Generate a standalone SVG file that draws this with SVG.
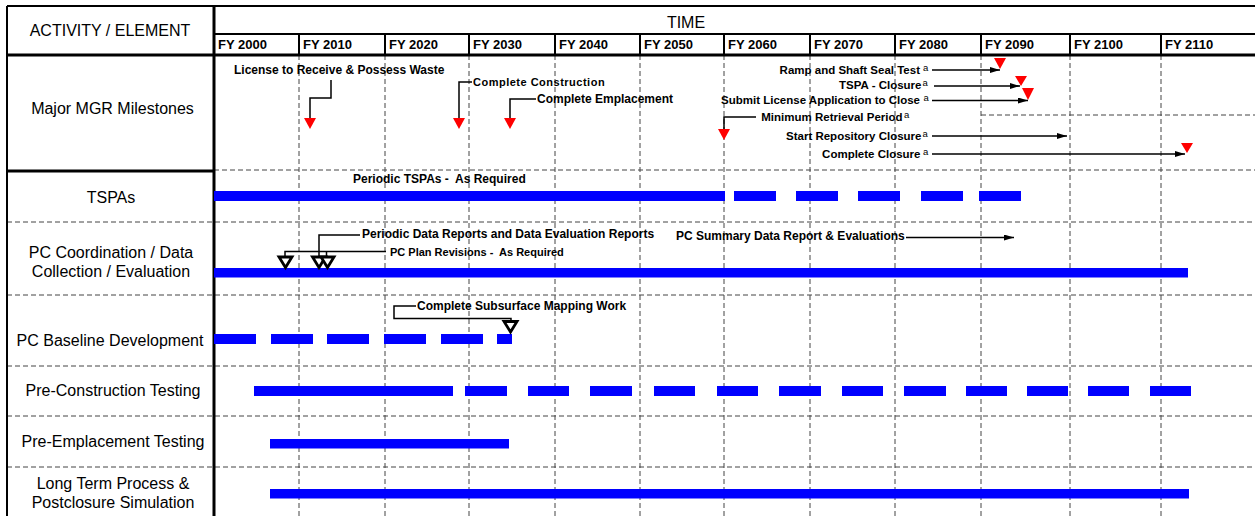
<svg xmlns="http://www.w3.org/2000/svg" width="1255" height="516" viewBox="0 0 1255 516">
  <defs>
    <marker id="arrow" viewBox="0 0 10 6" refX="10" refY="3" markerWidth="10" markerHeight="6" markerUnits="userSpaceOnUse" orient="auto">
      <path d="M0,0 L10,3 L0,6 z" fill="#000"/>
    </marker>
    <style>
      text { font-family: "Liberation Sans", Arial, sans-serif; fill: #000; }
      .lbl { font-size: 16px; text-anchor: middle; }
      .fy { font-size: 13px; font-weight: bold; }
      .ms { font-size: 12px; font-weight: bold; }
      .ms11 { font-size: 11px; font-weight: bold; }
      .cc { font-size: 11px; font-weight: bold; letter-spacing: 0.5px; }
      .msr { font-size: 11.5px; font-weight: bold; text-anchor: end; }
      .sup { font-size: 9.5px; }
      .grid { stroke: #444; stroke-width: 1; stroke-dasharray: 5 3; fill: none; }
      .frame { stroke: #000; fill: none; }
      .bar { fill: #0000ff; }
      .lead { stroke: #000; stroke-width: 1.5; fill: none; }
      .arr { stroke: #000; stroke-width: 1.5; fill: none; marker-end: url(#arrow); }
      .tri { fill: #ff0000; }
      .otri { fill: #fff; stroke: #000; stroke-width: 2.8; stroke-linejoin: miter; }
    </style>
  </defs>

  <rect width="1255" height="516" fill="#fff"/>

  <!-- table frame and grid -->
  <g id="grid">
    <!-- vertical decade lines -->
    <path class="grid" d="M299,55V516 M385,55V516 M469,55V516 M555,55V516 M640,55V516 M724,55V516 M810,55V516 M895,55V516 M981,55V516 M1070,55V516 M1161,55V516"/>
    <!-- row separators -->
    <path class="grid" d="M214,170H1255 M7,222H1255 M7,295H1255 M7,366H1255 M7,416H1255 M7,467H1255"/>
    <!-- minimum retrieval period extent -->
    <path class="grid" d="M981,115H1255"/>
    <!-- outer frame -->
    <path class="frame" stroke-width="2" d="M7,6H1255 M7,6V516"/>
    <path class="frame" stroke-width="3" d="M214,6V516 M7,55H1255 M7,171H214"/>
    <path class="frame" stroke-width="2" d="M214,34H1255"/>
    <!-- FY header cells -->
    <path class="frame" stroke="#222" stroke-width="2" d="M299,34V55 M385,34V55 M469,34V55 M555,34V55 M640,34V55 M724,34V55 M810,34V55 M895,34V55 M981,34V55 M1070,34V55 M1161,34V55"/>
  </g>

  <g id="header">
    <text class="lbl" x="110" y="36">ACTIVITY / ELEMENT</text>
    <text class="lbl" x="686" y="28">TIME</text>
    <text class="fy" x="218" y="49">FY 2000</text>
    <text class="fy" x="303" y="49">FY 2010</text>
    <text class="fy" x="389" y="49">FY 2020</text>
    <text class="fy" x="473" y="49">FY 2030</text>
    <text class="fy" x="559" y="49">FY 2040</text>
    <text class="fy" x="644" y="49">FY 2050</text>
    <text class="fy" x="728" y="49">FY 2060</text>
    <text class="fy" x="814" y="49">FY 2070</text>
    <text class="fy" x="899" y="49">FY 2080</text>
    <text class="fy" x="985" y="49">FY 2090</text>
    <text class="fy" x="1074" y="49">FY 2100</text>
    <text class="fy" x="1165" y="49">FY 2110</text>
  </g>

  <!-- Major MGR milestones -->
  <g id="milestones">
    <text class="lbl" x="112.5" y="114">Major MGR Milestones</text>
    <text class="ms" x="234" y="74">License to Receive &amp; Possess Waste</text>
    <text class="cc" x="473" y="86">Complete Construction</text>
    <text class="ms" x="537" y="103">Complete Emplacement</text>
    <text class="msr" x="920" y="74">Ramp and Shaft Seal Test</text>
    <text class="sup" x="923" y="71">a</text>
    <text class="msr" x="921.5" y="89">TSPA - Closure</text>
    <text class="sup" x="922.5" y="86">a</text>
    <text class="msr" x="920" y="104">Submit License Application to Close</text>
    <text class="sup" x="923.5" y="101">a</text>
    <text class="msr" x="902.5" y="121">Minimum Retrieval Period</text>
    <text class="sup" x="904" y="118">a</text>
    <text class="msr" x="921.5" y="140">Start Repository Closure</text>
    <text class="sup" x="922.5" y="137">a</text>
    <text class="msr" x="920.5" y="158">Complete Closure</text>
    <text class="sup" x="923" y="155">a</text>
    <!-- milestone markers -->
    <path class="tri" d="M304,118H316L310,129z"/>
    <path class="tri" d="M453,118H465L459,129z"/>
    <path class="tri" d="M504,118H516L510,129z"/>
    <path class="tri" d="M718,129H730L724,140z"/>
    <path class="tri" d="M994,58H1006L1000,69z"/>
    <path class="tri" d="M1015,76H1027L1021,86z"/>
    <path class="tri" d="M1022,88H1034L1028,100z"/>
    <path class="tri" d="M1181,143H1193L1187,153z"/>
  </g>

  <g id="tspas">
    <text class="lbl" x="111" y="203">TSPAs</text>
    <text class="ms" x="353" y="183" xml:space="preserve">Periodic TSPAs -  As Required</text>
    <path class="bar" d="M214,191H725V201H214z M734,191H776V201H734z M796,191H838V201H796z M858,191H900V201H858z M921,191H963V201H921z M979,191H1021V201H979z"/>
  </g>

  <g id="pc-coordination">
    <text class="lbl" x="111" y="258">PC Coordination / Data</text>
    <text class="lbl" x="111" y="277">Collection / Evaluation</text>
    <text class="ms" x="362" y="238">Periodic Data Reports and Data Evaluation Reports</text>
    <text class="ms11" x="390" y="256" xml:space="preserve">PC Plan Revisions -  As Required</text>
    <text class="ms" x="676" y="240">PC Summary Data Report &amp; Evaluations</text>
    <rect class="bar" x="214" y="268" width="974" height="9.5"/>
    <path class="otri" d="M279,257H292L285.5,267.5z"/>
    <path class="otri" d="M312.5,257H325.5L319,267.5z"/>
    <path class="otri" d="M321,257H334L327.5,267.5z"/>
  </g>

  <g id="pc-baseline">
    <text class="lbl" x="110" y="346">PC Baseline Development</text>
    <text class="ms" x="417" y="310">Complete Subsurface Mapping Work</text>
    <path class="bar" d="M214,334H256V344H214z M271,334H313V344H271z M327,334H369V344H327z M384,334H426V344H384z M441,334H483V344H441z M497,334H512V344H497z"/>
    <path class="otri" d="M504,321.5H517L510.5,332z"/>
  </g>

  <g id="pre-construction">
    <text class="lbl" x="113" y="396">Pre-Construction Testing</text>
    <path class="bar" d="M254,386H453V396H254z M465,386H507V396H465z M528,386H569V396H528z M590,386H632V396H590z M654,386H695V396H654z M717,386H758V396H717z M779,386H821V396H779z M842,386H883V396H842z M904,386H946V396H904z M966,386H1007V396H966z M1027,386H1068V396H1027z M1088,386H1129V396H1088z M1150,386H1191V396H1150z"/>
  </g>

  <g id="pre-emplacement">
    <text class="lbl" x="113" y="447">Pre-Emplacement Testing</text>
    <rect class="bar" x="270" y="439" width="239" height="9.5"/>
  </g>

  <g id="long-term">
    <text class="lbl" x="113" y="489">Long Term Process &amp;</text>
    <text class="lbl" x="113" y="508">Postclosure Simulation</text>
    <rect class="bar" x="270" y="489" width="919" height="9.5"/>
  </g>

  <!-- leader lines and arrows -->
  <g id="connectors">
    <path class="lead" d="M331,80V98H310V118"/>
    <path class="lead" d="M472,82H459V118"/>
    <path class="lead" d="M536,99H510V118"/>
    <path class="lead" d="M756,117H724V129"/>
    <path class="arr" d="M932,70H1000"/>
    <path class="arr" d="M934,86H1020"/>
    <path class="arr" d="M932,100.5H1028"/>
    <path class="arr" d="M932,136H1067"/>
    <path class="arr" d="M932,154H1185"/>
    <path class="arr" d="M906,237.5H1014"/>
    <path class="lead" d="M360,235H319V257"/>
    <path class="lead" d="M386,251.5H285V257 M326.5,251.5V257"/>
    <path class="lead" d="M416,306H394V318.5H511V321"/>
  </g>
</svg>
